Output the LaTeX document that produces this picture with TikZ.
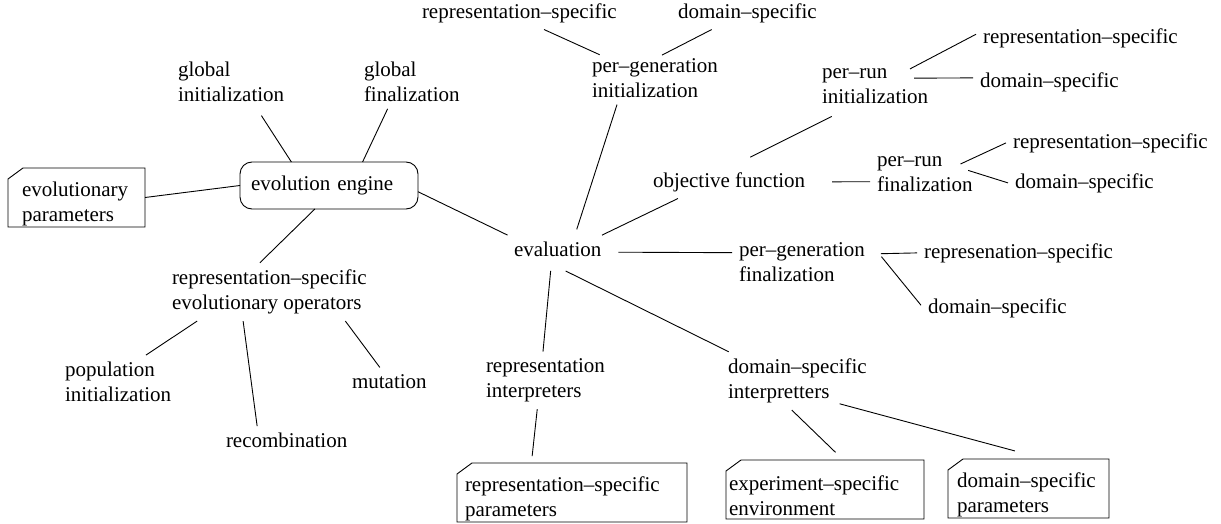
\documentclass[tikz,border=0pt]{standalone}
\usepackage{fontspec}
\setmainfont{Liberation Serif}
\newcommand{\labelfont}{\fontsize{21}{25}\selectfont}

\begin{document}
\begin{tikzpicture}[
    x=1pt, y=-1pt,
    line width=0.9pt,
    item/.style={font=\labelfont, align=left, inner sep=0pt, outer sep=7pt, anchor=west},
    engine/.style={draw, rounded corners=12pt, font=\labelfont, align=left, text width=156pt, minimum width=178pt, minimum height=47pt, inner sep=0pt, outer sep=0pt},
    param/.style 2 args={font=\labelfont, align=left, minimum width=#1, text width=#2, text height=27pt, minimum height=59pt, inner sep=0pt, outer sep=0pt}
]

\useasboundingbox (0,0) rectangle (1221,524);

\node[engine] (engine) at (329,185.5) {evolution engine};
\node[param={137pt}{109pt}] (evpar) at (76.5,197.5) {evolutionary\\parameters};
\node[item] (gi) at (171,82) {global\\initialization};
\node[item] (gf) at (357,82) {global\\finalization};

\node[item] (ops) at (165,291.9) {representation--specific\\evolutionary operators};
\node[item] (pop) at (58,382) {population\\initialization};
\node[item] (recomb) at (219,440.5) {recombination};
\node[item] (mut) at (345,381.5) {mutation};

\node[item] (eval) at (507,249.5) {evaluation};
\node[item] (pgi) at (585,78) {per--generation\\initialization};
\node[item] (pgirep) at (415,12.9) {representation--specific};
\node[item] (pgidom) at (671,12.9) {domain--specific};
\node[item] (obj) at (646,181.9) {objective function};
\node[item] (pri) at (815,86.5) {per--run\\initialization};
\node[item] (prirep) at (976,37.9) {representation--specific};
\node[item] (pridom) at (973,81.9) {domain--specific};
\node[item] (prf) at (870,174) {per--run\\finalization};
\node[item] (prfrep) at (1006,142.9) {representation--specific};
\node[item] (prfdom) at (1008,182.9) {domain--specific};
\node[item] (pgf) at (732,262.5) {per--generation\\finalization};
\node[item] (pgfrep) at (917,252.9) {represenation--specific};
\node[item] (pgfdom) at (921,307.9) {domain--specific};
\node[item] (ri) at (479,380.4) {representation\\interpreters};
\node[item] (di) at (721,380.9) {domain--specific\\interpretters};

\node[param={230pt}{214pt}] (reppar) at (572,492.5) {representation--specific\\parameters};
\node[param={198pt}{192pt}] (expenv) at (825,489.5) {experiment--specific\\environment};
\node[param={161pt}{143pt}] (dompar) at (1028.5,488.5) {domain--specific\\parameters};

\foreach \nm in {evpar,reppar,expenv,dompar}
  \draw ([yshift=-11pt]\nm.north west) -- ([xshift=15pt]\nm.north west) -- (\nm.north east) -- (\nm.south east) -- (\nm.south west) -- cycle;

\draw[shorten <=8pt] (gi.-46) -- (engine.148);
\draw (gf.-132) -- (engine.35);
\draw (evpar.east) -- (engine.west);
\draw (engine.-121) -- (ops.108);
\draw (ops.-158) -- (pop.44);
\draw (ops.-132) -- (recomb.154);
\draw (ops.-21) -- (mut.124);
\draw (engine.-4) -- (eval.164);

\draw[shorten <=6pt] (eval.40) -- (pgi.-145);
\draw[shorten <=-8pt] (pgi.157) -- (pgirep.-34);
\draw[shorten <=-8pt] (pgi.62) -- (pgidom.-155);
\draw (eval.18) -- (obj.-162);
\draw[shorten <=18pt, shorten >=12pt] (obj.73) -- (pri.-143);
\draw[shorten <=-15pt] (pri.27) -- (prirep.178);
\draw[shorten <=-21pt] (pri.8) -- (pridom.177);
\draw[shorten <=20pt] (obj.east) -- (prf.-172);
\draw[shorten <=-21pt] (prf.19) -- (prfrep.west);
\draw[shorten <=-12pt] (prf.east) -- (prfdom.west);
\draw[shorten <=10pt] (eval.-3) -- (pgf.172);
\draw[shorten <=9pt] (pgf.7) -- (pgfrep.west);
\draw[shorten <=15pt] (pgf.14) -- (pgfdom.178);

\draw[shorten <=7pt] (eval.-114) -- (ri.95);
\draw[shorten <=16pt] (eval.-114) -- (di.157);
\draw[shorten >=7pt] (ri.-106) -- (reppar.144);
\draw[shorten >=11pt] (di.-101) -- (expenv.58);
\draw[shorten <=-24pt, shorten >=31pt] (di.-24) -- (dompar.61);

\end{tikzpicture}
\end{document}
